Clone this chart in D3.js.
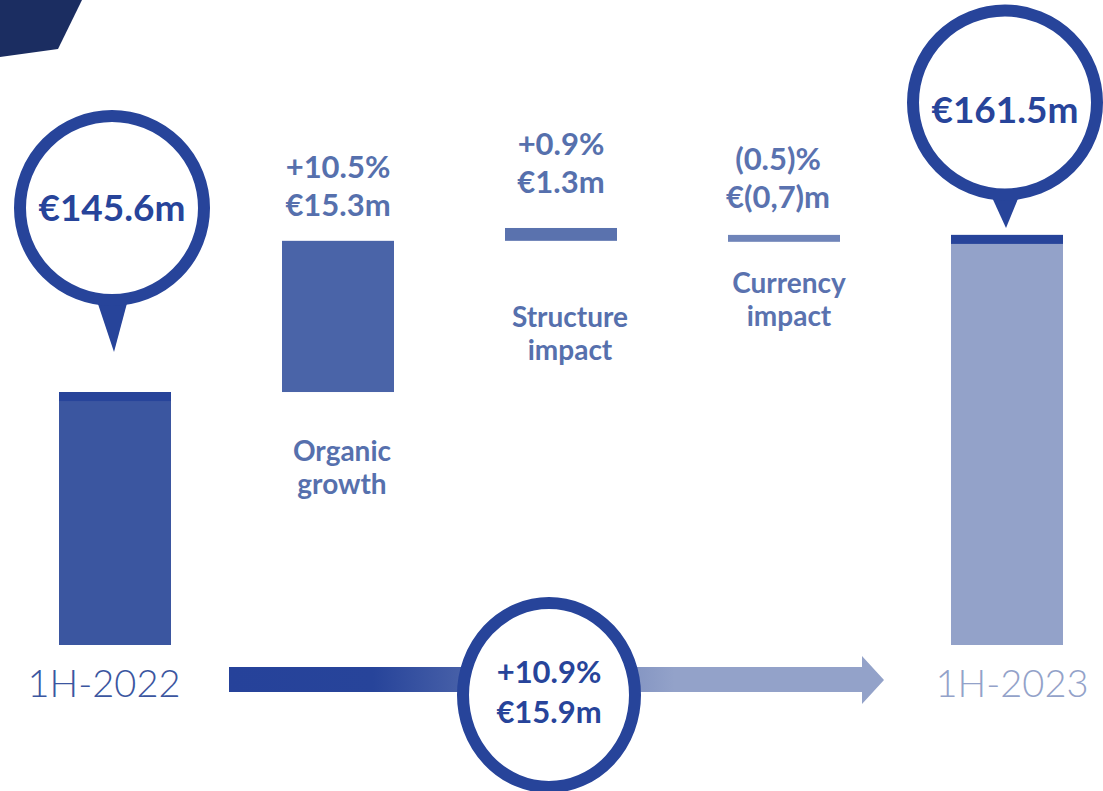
<!DOCTYPE html>
<html>
<head>
<meta charset="utf-8">
<script src="https://cdn.jsdelivr.net/npm/d3@7"></script>
<style>
  html, body { margin: 0; padding: 0; background: #fff; }
  svg { display: block; font-family: "Lato", "DejaVu Sans", sans-serif; }
</style>
</head>
<body>
<svg id="chart" width="1103" height="791"></svg>
<script>
// waterfall data
const categories = ["1H-2022", "Organic growth", "Structure impact", "Currency impact", "1H-2023"];
const values = [145.6, 15.3, 1.3, -0.7, 161.5];
const kinds = ["total", "delta", "delta", "delta", "total"];
const pctLabels = ["", "+10.5%", "+0.9%", "(0.5)%", ""];
const amountLabels = ["€145.6m", "€15.3m", "€1.3m", "€(0,7)m", "€161.5m"];
const nameLines = [["1H-2022"], ["Organic", "growth"], ["Structure", "impact"], ["Currency", "impact"], ["1H-2023"]];
const changeLabels = ["+10.9%", "€15.9m"];

const barColors = ["#3b56a0", "#4a64a8", "#5a72ae", "#6f84b9", "#93a2c9"];
const labelColors = ["#3b56a0", "#5670ad", "#5670ad", "#5a72af", "#93a2c9"];
const dark = "#27449a";

const svg = d3.select("#chart");

const x = d3.scalePoint().domain(categories).range([115, 1007]);
const y = d3.scaleLinear().domain([120, 161.5]).range([645, 234.9]);
const barW = 112;

// running totals -> bar extents
let run = 0;
const bars = categories.map((c, i) => {
  let lo, hi;
  if (kinds[i] === "total") {
    lo = y.domain()[0]; hi = values[i]; run = values[i];
  } else if (values[i] >= 0) {
    lo = run; hi = run + values[i]; run = hi;
  } else {
    // drop drawn hanging from the new level
    run = run + values[i];
    hi = run; lo = run + values[i];
  }
  return { cat: c, i, lo, hi };
});

// corner decoration
svg.append("polygon")
  .attr("points", "0,0 82,0 58,49 0,57")
  .attr("fill", "#1b2d61");

// bars
svg.selectAll(".bar")
  .data(bars)
  .enter()
  .append("rect")
  .attr("class", "bar")
  .attr("x", d => x(d.cat) - barW / 2)
  .attr("y", d => y(d.hi))
  .attr("width", barW)
  .attr("height", d => y(d.lo) - y(d.hi))
  .attr("fill", d => barColors[d.i]);

// dark cap on total bars
svg.selectAll(".cap")
  .data(bars.filter(d => kinds[d.i] === "total"))
  .enter()
  .append("rect")
  .attr("x", d => x(d.cat) - barW / 2)
  .attr("y", d => y(d.hi))
  .attr("width", barW)
  .attr("height", 9)
  .attr("fill", dark);

// value labels over delta bars
const deltas = bars.filter(d => kinds[d.i] === "delta");
const valueOffset = { "Organic growth": 25, "Structure impact": 35, "Currency impact": 27 };
const valueShift = { "Organic growth": 0, "Structure impact": 0, "Currency impact": -6 };
deltas.forEach(d => {
  const cx = x(d.cat) + valueShift[d.cat];
  const base = y(d.hi) - valueOffset[d.cat];
  const g = svg.append("g")
    .attr("font-weight", 700)
    .attr("font-size", 31)
    .attr("fill", labelColors[d.i])
    .attr("text-anchor", "middle");
  g.append("text").attr("x", cx).attr("y", base - 38).text(pctLabels[d.i]);
  g.append("text").attr("x", cx).attr("y", base).text(amountLabels[d.i]);
});

// category names for delta bars
const nameY = { "Organic growth": 461, "Structure impact": 327, "Currency impact": 293 };
const nameShift = { "Organic growth": 4, "Structure impact": 9, "Currency impact": 5 };
deltas.forEach(d => {
  const t = svg.append("text")
    .attr("font-weight", 700)
    .attr("font-size", 28)
    .attr("fill", labelColors[d.i])
    .attr("text-anchor", "middle");
  nameLines[d.i].forEach((line, k) => {
    t.append("tspan")
      .attr("x", x(d.cat) + nameShift[d.cat])
      .attr("y", nameY[d.cat] + k * 33)
      .text(line);
  });
});

// period labels
const periodShift = { "1H-2022": -11, "1H-2023": 5 };
bars.filter(d => kinds[d.i] === "total").forEach(d => {
  svg.append("text")
    .attr("x", x(d.cat) + periodShift[d.cat])
    .attr("y", 697)
    .attr("text-anchor", "middle")
    .attr("font-size", 38)
    .attr("font-weight", 300)
    .attr("fill", labelColors[d.i])
    .text(d.cat);
});

// pin balloons over totals
const pins = [
  { cat: "1H-2022", cy: 208, tip: 352, dx: -3, ty: 221 },
  { cat: "1H-2023", cy: 102.5, tip: 228, dx: -2, ty: 123 }
];
pins.forEach(p => {
  const i = categories.indexOf(p.cat);
  const cx = x(p.cat) + p.dx;
  svg.append("polygon")
    .attr("points", [[cx - 18, p.cy + 84], [cx + 18, p.cy + 84], [x(p.cat) - 1, p.tip]].join(" "))
    .attr("fill", dark);
  svg.append("circle")
    .attr("cx", cx).attr("cy", p.cy).attr("r", 92)
    .attr("fill", "#fff")
    .attr("stroke", dark)
    .attr("stroke-width", 12);
  svg.append("text")
    .attr("x", cx).attr("y", p.ty)
    .attr("text-anchor", "middle")
    .attr("font-weight", 700)
    .attr("font-size", 37)
    .attr("fill", dark)
    .text(amountLabels[i]);
});

// bottom arrow with gradient
const defs = svg.append("defs");
const grad = defs.append("linearGradient")
  .attr("id", "arrowGrad")
  .attr("gradientUnits", "userSpaceOnUse")
  .attr("x1", 229).attr("x2", 884).attr("y1", 0).attr("y2", 0);
grad.append("stop").attr("offset", 0).attr("stop-color", "#26429a");
grad.append("stop").attr("offset", 0.22).attr("stop-color", "#27449a");
grad.append("stop").attr("offset", 0.68).attr("stop-color", "#93a2c9");
grad.append("stop").attr("offset", 1).attr("stop-color", "#93a2c9");

svg.append("path")
  .attr("d", "M229,667 L862,667 L862,656 L884,680 L862,704 L862,692 L229,692 Z")
  .attr("fill", "url(#arrowGrad)");

svg.append("ellipse")
  .attr("cx", 549).attr("cy", 695)
  .attr("rx", 86).attr("ry", 92)
  .attr("fill", "#fff")
  .attr("stroke", dark)
  .attr("stroke-width", 12);

const ct = svg.append("g")
  .attr("text-anchor", "middle")
  .attr("font-weight", 700)
  .attr("font-size", 31)
  .attr("fill", dark);
ct.append("text").attr("x", 549).attr("y", 683).text(changeLabels[0]);
ct.append("text").attr("x", 549).attr("y", 723).text(changeLabels[1]);
</script>
</body>
</html>
